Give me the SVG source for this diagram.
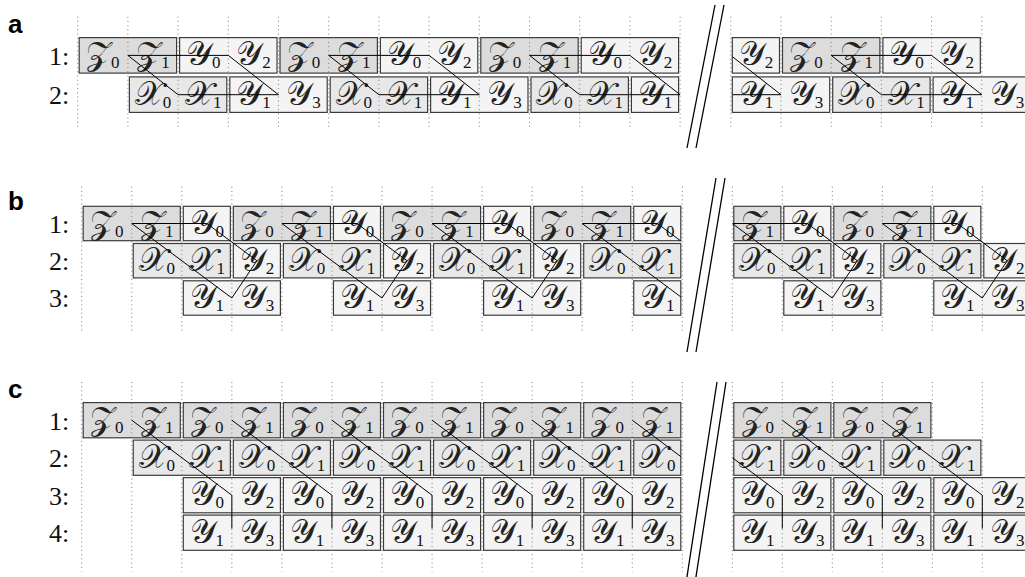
<svg xmlns="http://www.w3.org/2000/svg" width="1025" height="577" viewBox="0 0 1025 577">
<style>
.z{fill:#dcdcdc;stroke:#3c3c3c;stroke-width:1.2}
.x{fill:#e8e8e8;stroke:#3c3c3c;stroke-width:1.2}
.y{fill:#f4f4f4;stroke:#3c3c3c;stroke-width:1.2}
.g{stroke:#7a7a7a;stroke-width:1;stroke-dasharray:1 3.2;fill:none}
.c{stroke:#000;stroke-width:1;fill:none}
.br{stroke:#000;stroke-width:1.3;fill:none}
.m{font-family:"DejaVu Serif","DejaVu Sans",serif;font-size:33px;text-anchor:middle;fill:#222}
.s{font-family:"Liberation Serif",serif;font-size:17px;fill:#111}
.l{font-family:"Liberation Serif",serif;font-size:26px;fill:#111}
.p{font-family:"Liberation Sans",Arial,sans-serif;font-size:26px;font-weight:bold;fill:#000}
</style>
<defs>
<clipPath id="cl"><rect x="0" y="0" width="680.8" height="577"/></clipPath>
<clipPath id="cr"><rect x="732.5" y="0" width="300" height="577"/></clipPath>
</defs>

<g id="nodes">
<!-- Panel a -->
<g id="a1-1"><rect class="z" x="79.2" y="37.6" width="97.4" height="35.5"/><text class="m" x="102.8" y="65.4">𝒵<tspan class="s" dy="3">0</tspan></text><text class="m" x="153.0" y="65.4">𝒵<tspan class="s" dy="3">1</tspan></text></g>
<g id="a1-2"><rect class="y" x="179.6" y="37.6" width="97.4" height="35.5"/><text class="m" x="203.2" y="65.4">𝒴<tspan class="s" dy="3">0</tspan></text><text class="m" x="253.4" y="65.4">𝒴<tspan class="s" dy="3">2</tspan></text></g>
<g id="a1-3"><rect class="z" x="280.0" y="37.6" width="97.4" height="35.5"/><text class="m" x="303.6" y="65.4">𝒵<tspan class="s" dy="3">0</tspan></text><text class="m" x="353.8" y="65.4">𝒵<tspan class="s" dy="3">1</tspan></text></g>
<g id="a1-4"><rect class="y" x="380.4" y="37.6" width="97.4" height="35.5"/><text class="m" x="404.0" y="65.4">𝒴<tspan class="s" dy="3">0</tspan></text><text class="m" x="454.2" y="65.4">𝒴<tspan class="s" dy="3">2</tspan></text></g>
<g id="a1-5"><rect class="z" x="480.8" y="37.6" width="97.4" height="35.5"/><text class="m" x="504.4" y="65.4">𝒵<tspan class="s" dy="3">0</tspan></text><text class="m" x="554.6" y="65.4">𝒵<tspan class="s" dy="3">1</tspan></text></g>
<g id="a1-6"><rect class="y" x="581.2" y="37.6" width="97.4" height="35.5"/><text class="m" x="604.8" y="65.4">𝒴<tspan class="s" dy="3">0</tspan></text><text class="m" x="655.0" y="65.4">𝒴<tspan class="s" dy="3">2</tspan></text></g>
<g id="a2-1"><rect class="x" x="129.4" y="76.9" width="97.4" height="35.5"/><text class="m" x="153.0" y="104.7">𝒳<tspan class="s" dy="3">0</tspan></text><text class="m" x="203.2" y="104.7">𝒳<tspan class="s" dy="3">1</tspan></text></g>
<g id="a2-2"><rect class="y" x="229.8" y="76.9" width="97.4" height="35.5"/><text class="m" x="253.4" y="104.7">𝒴<tspan class="s" dy="3">1</tspan></text><text class="m" x="303.6" y="104.7">𝒴<tspan class="s" dy="3">3</tspan></text></g>
<g id="a2-3"><rect class="x" x="330.2" y="76.9" width="97.4" height="35.5"/><text class="m" x="353.8" y="104.7">𝒳<tspan class="s" dy="3">0</tspan></text><text class="m" x="404.0" y="104.7">𝒳<tspan class="s" dy="3">1</tspan></text></g>
<g id="a2-4"><rect class="y" x="430.6" y="76.9" width="97.4" height="35.5"/><text class="m" x="454.2" y="104.7">𝒴<tspan class="s" dy="3">1</tspan></text><text class="m" x="504.4" y="104.7">𝒴<tspan class="s" dy="3">3</tspan></text></g>
<g id="a2-5"><rect class="x" x="531.0" y="76.9" width="97.4" height="35.5"/><text class="m" x="554.6" y="104.7">𝒳<tspan class="s" dy="3">0</tspan></text><text class="m" x="604.8" y="104.7">𝒳<tspan class="s" dy="3">1</tspan></text></g>
<g id="a2-6"><rect class="y" x="631.4" y="76.9" width="47.2" height="35.5"/><text class="m" x="655.0" y="104.7">𝒴<tspan class="s" dy="3">1</tspan></text></g>
<g id="ar1-1"><rect class="y" x="732.3" y="37.6" width="47.2" height="35.5"/><text class="m" x="755.9" y="65.4">𝒴<tspan class="s" dy="3">2</tspan></text></g>
<g id="ar1-2"><rect class="z" x="782.5" y="37.6" width="97.4" height="35.5"/><text class="m" x="806.1" y="65.4">𝒵<tspan class="s" dy="3">0</tspan></text><text class="m" x="856.3" y="65.4">𝒵<tspan class="s" dy="3">1</tspan></text></g>
<g id="ar1-3"><rect class="y" x="882.9" y="37.6" width="97.4" height="35.5"/><text class="m" x="906.5" y="65.4">𝒴<tspan class="s" dy="3">0</tspan></text><text class="m" x="956.7" y="65.4">𝒴<tspan class="s" dy="3">2</tspan></text></g>
<g id="ar2-1"><rect class="y" x="732.3" y="76.9" width="97.4" height="35.5"/><text class="m" x="755.9" y="104.7">𝒴<tspan class="s" dy="3">1</tspan></text><text class="m" x="806.1" y="104.7">𝒴<tspan class="s" dy="3">3</tspan></text></g>
<g id="ar2-2"><rect class="x" x="832.7" y="76.9" width="97.4" height="35.5"/><text class="m" x="856.3" y="104.7">𝒳<tspan class="s" dy="3">0</tspan></text><text class="m" x="906.5" y="104.7">𝒳<tspan class="s" dy="3">1</tspan></text></g>
<g id="ar2-3"><rect class="y" x="933.1" y="76.9" width="97.4" height="35.5"/><text class="m" x="956.7" y="104.7">𝒴<tspan class="s" dy="3">1</tspan></text><text class="m" x="1006.9" y="104.7">𝒴<tspan class="s" dy="3">3</tspan></text></g>

<!-- Panel b -->
<g id="b1-1"><rect class="z" x="83.2" y="206.3" width="97.1" height="34.4"/><text class="m" x="106.7" y="233.5">𝒵<tspan class="s" dy="3">0</tspan></text><text class="m" x="156.8" y="233.5">𝒵<tspan class="s" dy="3">1</tspan></text></g>
<g id="b1-2"><rect class="y" x="183.3" y="206.3" width="47.05" height="34.4"/><text class="m" x="206.8" y="233.5">𝒴<tspan class="s" dy="3">0</tspan></text></g>
<g id="b1-3"><rect class="z" x="233.35" y="206.3" width="97.1" height="34.4"/><text class="m" x="256.9" y="233.5">𝒵<tspan class="s" dy="3">0</tspan></text><text class="m" x="306.9" y="233.5">𝒵<tspan class="s" dy="3">1</tspan></text></g>
<g id="b1-4"><rect class="y" x="333.45" y="206.3" width="47.05" height="34.4"/><text class="m" x="357.0" y="233.5">𝒴<tspan class="s" dy="3">0</tspan></text></g>
<g id="b1-5"><rect class="z" x="383.5" y="206.3" width="97.1" height="34.4"/><text class="m" x="407.0" y="233.5">𝒵<tspan class="s" dy="3">0</tspan></text><text class="m" x="457.1" y="233.5">𝒵<tspan class="s" dy="3">1</tspan></text></g>
<g id="b1-6"><rect class="y" x="483.6" y="206.3" width="47.05" height="34.4"/><text class="m" x="507.1" y="233.5">𝒴<tspan class="s" dy="3">0</tspan></text></g>
<g id="b1-7"><rect class="z" x="533.65" y="206.3" width="97.1" height="34.4"/><text class="m" x="557.2" y="233.5">𝒵<tspan class="s" dy="3">0</tspan></text><text class="m" x="607.2" y="233.5">𝒵<tspan class="s" dy="3">1</tspan></text></g>
<g id="b1-8"><rect class="y" x="633.75" y="206.3" width="47.05" height="34.4"/><text class="m" x="657.3" y="233.5">𝒴<tspan class="s" dy="3">0</tspan></text></g>
<g id="b2-1"><rect class="x" x="133.25" y="243.5" width="97.1" height="34.4"/><text class="m" x="156.8" y="270.7">𝒳<tspan class="s" dy="3">0</tspan></text><text class="m" x="206.8" y="270.7">𝒳<tspan class="s" dy="3">1</tspan></text></g>
<g id="b2-2"><rect class="y" x="233.35" y="243.5" width="47.05" height="34.4"/><text class="m" x="256.9" y="270.7">𝒴<tspan class="s" dy="3">2</tspan></text></g>
<g id="b2-3"><rect class="x" x="283.4" y="243.5" width="97.1" height="34.4"/><text class="m" x="306.9" y="270.7">𝒳<tspan class="s" dy="3">0</tspan></text><text class="m" x="357.0" y="270.7">𝒳<tspan class="s" dy="3">1</tspan></text></g>
<g id="b2-4"><rect class="y" x="383.5" y="243.5" width="47.05" height="34.4"/><text class="m" x="407.0" y="270.7">𝒴<tspan class="s" dy="3">2</tspan></text></g>
<g id="b2-5"><rect class="x" x="433.55" y="243.5" width="97.1" height="34.4"/><text class="m" x="457.1" y="270.7">𝒳<tspan class="s" dy="3">0</tspan></text><text class="m" x="507.1" y="270.7">𝒳<tspan class="s" dy="3">1</tspan></text></g>
<g id="b2-6"><rect class="y" x="533.65" y="243.5" width="47.05" height="34.4"/><text class="m" x="557.2" y="270.7">𝒴<tspan class="s" dy="3">2</tspan></text></g>
<g id="b2-7"><rect class="x" x="583.7" y="243.5" width="97.1" height="34.4"/><text class="m" x="607.2" y="270.7">𝒳<tspan class="s" dy="3">0</tspan></text><text class="m" x="657.3" y="270.7">𝒳<tspan class="s" dy="3">1</tspan></text></g>
<g id="b3-1"><rect class="y" x="183.3" y="280.8" width="97.1" height="34.4"/><text class="m" x="206.8" y="308">𝒴<tspan class="s" dy="3">1</tspan></text><text class="m" x="256.9" y="308">𝒴<tspan class="s" dy="3">3</tspan></text></g>
<g id="b3-2"><rect class="y" x="333.45" y="280.8" width="97.1" height="34.4"/><text class="m" x="357.0" y="308">𝒴<tspan class="s" dy="3">1</tspan></text><text class="m" x="407.0" y="308">𝒴<tspan class="s" dy="3">3</tspan></text></g>
<g id="b3-3"><rect class="y" x="483.6" y="280.8" width="97.1" height="34.4"/><text class="m" x="507.1" y="308">𝒴<tspan class="s" dy="3">1</tspan></text><text class="m" x="557.2" y="308">𝒴<tspan class="s" dy="3">3</tspan></text></g>
<g id="b3-4"><rect class="y" x="633.75" y="280.8" width="47.05" height="34.4"/><text class="m" x="657.3" y="308">𝒴<tspan class="s" dy="3">1</tspan></text></g>
<g id="br1-1"><rect class="z" x="733.8" y="206.3" width="47.05" height="34.4"/><text class="m" x="757.3" y="233.5">𝒵<tspan class="s" dy="3">1</tspan></text></g>
<g id="br1-2"><rect class="y" x="783.8" y="206.3" width="47.05" height="34.4"/><text class="m" x="807.3" y="233.5">𝒴<tspan class="s" dy="3">0</tspan></text></g>
<g id="br1-3"><rect class="z" x="833.8" y="206.3" width="97.1" height="34.4"/><text class="m" x="857.3" y="233.5">𝒵<tspan class="s" dy="3">0</tspan></text><text class="m" x="907.3" y="233.5">𝒵<tspan class="s" dy="3">1</tspan></text></g>
<g id="br1-4"><rect class="y" x="933.8" y="206.3" width="47.05" height="34.4"/><text class="m" x="957.3" y="233.5">𝒴<tspan class="s" dy="3">0</tspan></text></g>
<g id="br2-1"><rect class="x" x="733.8" y="243.5" width="97.1" height="34.4"/><text class="m" x="757.3" y="270.7">𝒳<tspan class="s" dy="3">0</tspan></text><text class="m" x="807.3" y="270.7">𝒳<tspan class="s" dy="3">1</tspan></text></g>
<g id="br2-2"><rect class="y" x="833.8" y="243.5" width="47.05" height="34.4"/><text class="m" x="857.3" y="270.7">𝒴<tspan class="s" dy="3">2</tspan></text></g>
<g id="br2-3"><rect class="x" x="883.8" y="243.5" width="97.1" height="34.4"/><text class="m" x="907.3" y="270.7">𝒳<tspan class="s" dy="3">0</tspan></text><text class="m" x="957.3" y="270.7">𝒳<tspan class="s" dy="3">1</tspan></text></g>
<g id="br2-4"><rect class="y" x="983.8" y="243.5" width="47.05" height="34.4"/><text class="m" x="1007.3" y="270.7">𝒴<tspan class="s" dy="3">2</tspan></text></g>
<g id="br3-1"><rect class="y" x="783.8" y="280.8" width="97.1" height="34.4"/><text class="m" x="807.3" y="308">𝒴<tspan class="s" dy="3">1</tspan></text><text class="m" x="857.3" y="308">𝒴<tspan class="s" dy="3">3</tspan></text></g>
<g id="br3-2"><rect class="y" x="933.8" y="280.8" width="97.1" height="34.4"/><text class="m" x="957.3" y="308">𝒴<tspan class="s" dy="3">1</tspan></text><text class="m" x="1007.3" y="308">𝒴<tspan class="s" dy="3">3</tspan></text></g>

<!-- Panel c -->
<g id="c1-1"><rect class="z" x="83.2" y="402.6" width="97.1" height="35.2"/><text class="m" x="106.7" y="430.2">𝒵<tspan class="s" dy="3">0</tspan></text><text class="m" x="156.8" y="430.2">𝒵<tspan class="s" dy="3">1</tspan></text></g>
<g id="c1-2"><rect class="z" x="183.3" y="402.6" width="97.1" height="35.2"/><text class="m" x="206.8" y="430.2">𝒵<tspan class="s" dy="3">0</tspan></text><text class="m" x="256.9" y="430.2">𝒵<tspan class="s" dy="3">1</tspan></text></g>
<g id="c1-3"><rect class="z" x="283.4" y="402.6" width="97.1" height="35.2"/><text class="m" x="306.9" y="430.2">𝒵<tspan class="s" dy="3">0</tspan></text><text class="m" x="357.0" y="430.2">𝒵<tspan class="s" dy="3">1</tspan></text></g>
<g id="c1-4"><rect class="z" x="383.5" y="402.6" width="97.1" height="35.2"/><text class="m" x="407.0" y="430.2">𝒵<tspan class="s" dy="3">0</tspan></text><text class="m" x="457.1" y="430.2">𝒵<tspan class="s" dy="3">1</tspan></text></g>
<g id="c1-5"><rect class="z" x="483.6" y="402.6" width="97.1" height="35.2"/><text class="m" x="507.1" y="430.2">𝒵<tspan class="s" dy="3">0</tspan></text><text class="m" x="557.2" y="430.2">𝒵<tspan class="s" dy="3">1</tspan></text></g>
<g id="c1-6"><rect class="z" x="583.7" y="402.6" width="97.1" height="35.2"/><text class="m" x="607.2" y="430.2">𝒵<tspan class="s" dy="3">0</tspan></text><text class="m" x="657.3" y="430.2">𝒵<tspan class="s" dy="3">1</tspan></text></g>
<g id="c2-1"><rect class="x" x="133.25" y="440.1" width="97.1" height="35.2"/><text class="m" x="156.8" y="467.7">𝒳<tspan class="s" dy="3">0</tspan></text><text class="m" x="206.8" y="467.7">𝒳<tspan class="s" dy="3">1</tspan></text></g>
<g id="c2-2"><rect class="x" x="233.35" y="440.1" width="97.1" height="35.2"/><text class="m" x="256.9" y="467.7">𝒳<tspan class="s" dy="3">0</tspan></text><text class="m" x="306.9" y="467.7">𝒳<tspan class="s" dy="3">1</tspan></text></g>
<g id="c2-3"><rect class="x" x="333.45" y="440.1" width="97.1" height="35.2"/><text class="m" x="357.0" y="467.7">𝒳<tspan class="s" dy="3">0</tspan></text><text class="m" x="407.0" y="467.7">𝒳<tspan class="s" dy="3">1</tspan></text></g>
<g id="c2-4"><rect class="x" x="433.55" y="440.1" width="97.1" height="35.2"/><text class="m" x="457.1" y="467.7">𝒳<tspan class="s" dy="3">0</tspan></text><text class="m" x="507.1" y="467.7">𝒳<tspan class="s" dy="3">1</tspan></text></g>
<g id="c2-5"><rect class="x" x="533.65" y="440.1" width="97.1" height="35.2"/><text class="m" x="557.2" y="467.7">𝒳<tspan class="s" dy="3">0</tspan></text><text class="m" x="607.2" y="467.7">𝒳<tspan class="s" dy="3">1</tspan></text></g>
<g id="c2-6"><rect class="x" x="633.75" y="440.1" width="47.05" height="35.2"/><text class="m" x="657.3" y="467.7">𝒳<tspan class="s" dy="3">0</tspan></text></g>
<g id="c3-1"><rect class="y" x="183.3" y="477.6" width="97.1" height="35.2"/><text class="m" x="206.8" y="505.2">𝒴<tspan class="s" dy="3">0</tspan></text><text class="m" x="256.9" y="505.2">𝒴<tspan class="s" dy="3">2</tspan></text></g>
<g id="c3-2"><rect class="y" x="283.4" y="477.6" width="97.1" height="35.2"/><text class="m" x="306.9" y="505.2">𝒴<tspan class="s" dy="3">0</tspan></text><text class="m" x="357.0" y="505.2">𝒴<tspan class="s" dy="3">2</tspan></text></g>
<g id="c3-3"><rect class="y" x="383.5" y="477.6" width="97.1" height="35.2"/><text class="m" x="407.0" y="505.2">𝒴<tspan class="s" dy="3">0</tspan></text><text class="m" x="457.1" y="505.2">𝒴<tspan class="s" dy="3">2</tspan></text></g>
<g id="c3-4"><rect class="y" x="483.6" y="477.6" width="97.1" height="35.2"/><text class="m" x="507.1" y="505.2">𝒴<tspan class="s" dy="3">0</tspan></text><text class="m" x="557.2" y="505.2">𝒴<tspan class="s" dy="3">2</tspan></text></g>
<g id="c3-5"><rect class="y" x="583.7" y="477.6" width="97.1" height="35.2"/><text class="m" x="607.2" y="505.2">𝒴<tspan class="s" dy="3">0</tspan></text><text class="m" x="657.3" y="505.2">𝒴<tspan class="s" dy="3">2</tspan></text></g>
<g id="c4-1"><rect class="y" x="183.3" y="515.1" width="97.1" height="35.2"/><text class="m" x="206.8" y="542.7">𝒴<tspan class="s" dy="3">1</tspan></text><text class="m" x="256.9" y="542.7">𝒴<tspan class="s" dy="3">3</tspan></text></g>
<g id="c4-2"><rect class="y" x="283.4" y="515.1" width="97.1" height="35.2"/><text class="m" x="306.9" y="542.7">𝒴<tspan class="s" dy="3">1</tspan></text><text class="m" x="357.0" y="542.7">𝒴<tspan class="s" dy="3">3</tspan></text></g>
<g id="c4-3"><rect class="y" x="383.5" y="515.1" width="97.1" height="35.2"/><text class="m" x="407.0" y="542.7">𝒴<tspan class="s" dy="3">1</tspan></text><text class="m" x="457.1" y="542.7">𝒴<tspan class="s" dy="3">3</tspan></text></g>
<g id="c4-4"><rect class="y" x="483.6" y="515.1" width="97.1" height="35.2"/><text class="m" x="507.1" y="542.7">𝒴<tspan class="s" dy="3">1</tspan></text><text class="m" x="557.2" y="542.7">𝒴<tspan class="s" dy="3">3</tspan></text></g>
<g id="c4-5"><rect class="y" x="583.7" y="515.1" width="97.1" height="35.2"/><text class="m" x="607.2" y="542.7">𝒴<tspan class="s" dy="3">1</tspan></text><text class="m" x="657.3" y="542.7">𝒴<tspan class="s" dy="3">3</tspan></text></g>
<g id="cr1-1"><rect class="z" x="733.8" y="402.6" width="97.1" height="35.2"/><text class="m" x="757.3" y="430.2">𝒵<tspan class="s" dy="3">0</tspan></text><text class="m" x="807.3" y="430.2">𝒵<tspan class="s" dy="3">1</tspan></text></g>
<g id="cr1-2"><rect class="z" x="833.8" y="402.6" width="97.1" height="35.2"/><text class="m" x="857.3" y="430.2">𝒵<tspan class="s" dy="3">0</tspan></text><text class="m" x="907.3" y="430.2">𝒵<tspan class="s" dy="3">1</tspan></text></g>
<g id="cr2-1"><rect class="x" x="733.8" y="440.1" width="47.05" height="35.2"/><text class="m" x="757.3" y="467.7">𝒳<tspan class="s" dy="3">1</tspan></text></g>
<g id="cr2-2"><rect class="x" x="783.8" y="440.1" width="97.1" height="35.2"/><text class="m" x="807.3" y="467.7">𝒳<tspan class="s" dy="3">0</tspan></text><text class="m" x="857.3" y="467.7">𝒳<tspan class="s" dy="3">1</tspan></text></g>
<g id="cr2-3"><rect class="x" x="883.8" y="440.1" width="97.1" height="35.2"/><text class="m" x="907.3" y="467.7">𝒳<tspan class="s" dy="3">0</tspan></text><text class="m" x="957.3" y="467.7">𝒳<tspan class="s" dy="3">1</tspan></text></g>
<g id="cr3-1"><rect class="y" x="733.8" y="477.6" width="97.1" height="35.2"/><text class="m" x="757.3" y="505.2">𝒴<tspan class="s" dy="3">0</tspan></text><text class="m" x="807.3" y="505.2">𝒴<tspan class="s" dy="3">2</tspan></text></g>
<g id="cr3-2"><rect class="y" x="833.8" y="477.6" width="97.1" height="35.2"/><text class="m" x="857.3" y="505.2">𝒴<tspan class="s" dy="3">0</tspan></text><text class="m" x="907.3" y="505.2">𝒴<tspan class="s" dy="3">2</tspan></text></g>
<g id="cr3-3"><rect class="y" x="933.8" y="477.6" width="97.1" height="35.2"/><text class="m" x="957.3" y="505.2">𝒴<tspan class="s" dy="3">0</tspan></text><text class="m" x="1007.3" y="505.2">𝒴<tspan class="s" dy="3">2</tspan></text></g>
<g id="cr4-1"><rect class="y" x="733.8" y="515.1" width="97.1" height="35.2"/><text class="m" x="757.3" y="542.7">𝒴<tspan class="s" dy="3">1</tspan></text><text class="m" x="807.3" y="542.7">𝒴<tspan class="s" dy="3">3</tspan></text></g>
<g id="cr4-2"><rect class="y" x="833.8" y="515.1" width="97.1" height="35.2"/><text class="m" x="857.3" y="542.7">𝒴<tspan class="s" dy="3">1</tspan></text><text class="m" x="907.3" y="542.7">𝒴<tspan class="s" dy="3">3</tspan></text></g>
<g id="cr4-3"><rect class="y" x="933.8" y="515.1" width="97.1" height="35.2"/><text class="m" x="957.3" y="542.7">𝒴<tspan class="s" dy="3">1</tspan></text><text class="m" x="1007.3" y="542.7">𝒴<tspan class="s" dy="3">3</tspan></text></g>
</g>

<g id="grid" class="g">
<path d="M77.7 16.7V128.3M127.9 16.7V128.3M178.1 16.7V128.3M228.3 16.7V128.3M278.5 16.7V128.3M328.7 16.7V128.3M378.9 16.7V128.3M429.1 16.7V128.3M479.3 16.7V128.3M529.5 16.7V128.3M579.7 16.7V128.3M629.9 16.7V128.3M680.1 16.7V128.3M730.8 16.7V128.3M781 16.7V128.3M831.2 16.7V128.3M881.4 16.7V128.3M931.6 16.7V128.3M981.8 16.7V128.3"/>
<path d="M81.7 186.7V331.7M131.75 186.7V331.7M181.8 186.7V331.7M231.85 186.7V331.7M281.9 186.7V331.7M331.95 186.7V331.7M382 186.7V331.7M432.05 186.7V331.7M482.1 186.7V331.7M532.15 186.7V331.7M582.2 186.7V331.7M632.25 186.7V331.7M682.3 186.7V331.7M732.3 186.7V331.7M782.3 186.7V331.7M832.3 186.7V331.7M882.3 186.7V331.7M932.3 186.7V331.7M982.3 186.7V331.7"/>
<path d="M81.7 382V571.5M131.75 382V571.5M181.8 382V571.5M231.85 382V571.5M281.9 382V571.5M331.95 382V571.5M382 382V571.5M432.05 382V571.5M482.1 382V571.5M532.15 382V571.5M582.2 382V571.5M632.25 382V571.5M682.3 382V571.5M732.3 382V571.5M782.3 382V571.5M832.3 382V571.5M882.3 382V571.5M932.3 382V571.5M982.3 382V571.5"/>
</g>

<g id="connectors" class="c">
<g clip-path="url(#cl)">
<path d="M127.9 55.4H228.3L278.5 94.7M127.9 55.4L178.1 94.7H278.5"/>
<path d="M328.7 55.4H429.1L479.3 94.7M328.7 55.4L378.9 94.7H479.3"/>
<path d="M529.5 55.4H629.9L680.1 94.7M529.5 55.4L579.7 94.7H680.1"/>
<path d="M131.75 223.5H206.8L256.9 260.7M131.75 223.5L231.85 298L256.9 260.7"/>
<path d="M281.9 223.5H356.95L407 260.7M281.9 223.5L382 298L407 260.7"/>
<path d="M432.05 223.5H507.1L557.2 260.7M432.05 223.5L532.15 298L557.2 260.7"/>
<path d="M582.2 223.5H657.3L707.3 260.7M582.2 223.5L682.3 298L707.3 260.7"/>
<path d="M131.75 420.2L231.85 495.2V528.5M231.85 420.2L331.95 495.2V528.5M331.95 420.2L432.05 495.2V528.5M432.05 420.2L532.15 495.2V528.5M532.15 420.2L632.25 495.2V528.5M632.25 420.2L732.35 495.2"/>
</g>
<g clip-path="url(#cr)">
<path d="M630.4 55.4H730.8L781 94.7M630.4 55.4L680.6 94.7H781"/>
<path d="M831.2 55.4H931.6L981.8 94.7M831.2 55.4L881.4 94.7H981.8"/>
<path d="M732.3 223.5H807.3L857.3 260.7M732.3 223.5L832.3 298L857.3 260.7"/>
<path d="M882.3 223.5H957.3L1007.3 260.7M882.3 223.5L982.3 298L1007.3 260.7"/>
<path d="M682.3 420.2L782.3 495.2V528.5M782.3 420.2L882.3 495.2V528.5M882.3 420.2L982.3 495.2V528.5"/>
</g>
</g>

<g id="breaks" class="br">
<path d="M715 5L687 148M724 5L696 148"/>
<path d="M716 178L687 352M725 178L696 352"/>
<path d="M717 382L686.5 580M726 382L695.5 580"/>
</g>

<g id="labels">
<text class="p" x="8" y="33">a</text>
<text class="p" x="8" y="210">b</text>
<text class="p" x="8" y="398">c</text>
<text class="l" x="49" y="64.5">1:</text>
<text class="l" x="49" y="103.8">2:</text>
<text class="l" x="49" y="232.5">1:</text>
<text class="l" x="49" y="269.7">2:</text>
<text class="l" x="49" y="307">3:</text>
<text class="l" x="49" y="429.5">1:</text>
<text class="l" x="49" y="467">2:</text>
<text class="l" x="49" y="504.5">3:</text>
<text class="l" x="49" y="542">4:</text>
</g>
</svg>
